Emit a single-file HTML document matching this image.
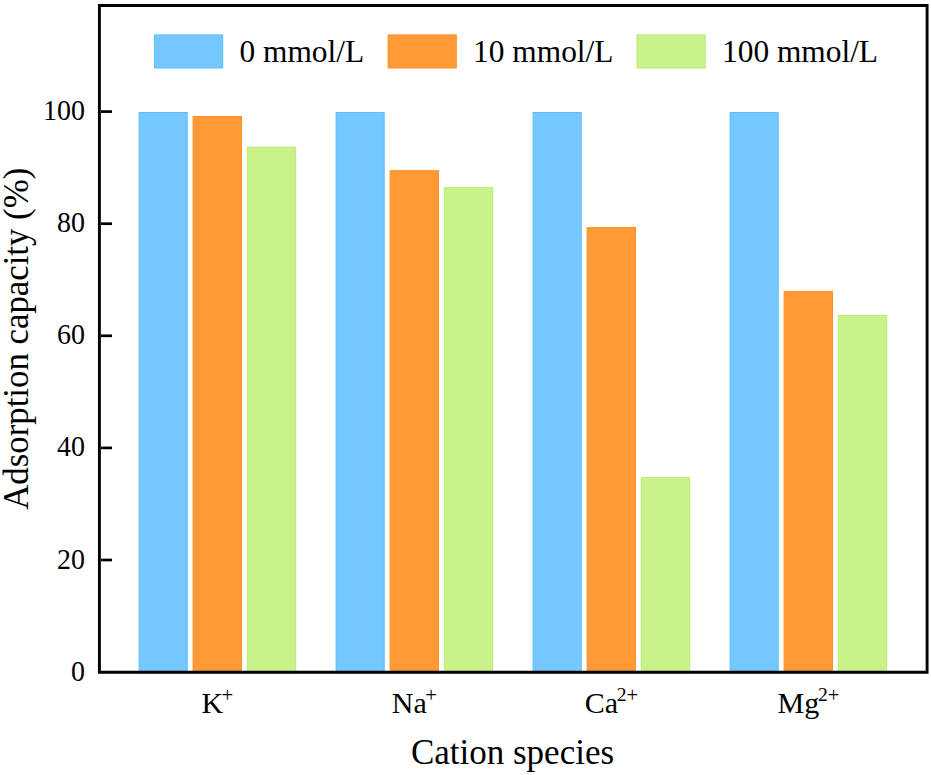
<!DOCTYPE html>
<html><head><meta charset="utf-8"><style>
html,body{margin:0;padding:0;background:#fff;}
svg{display:block;font-family:"Liberation Serif",serif;}
</style></head><body>
<svg width="931" height="775" viewBox="0 0 931 775" font-family="Liberation Serif">
<rect width="931" height="775" fill="#fff"/>
<rect x="139.10" y="112.50" width="48.10" height="560.20" fill="#74C8FF" stroke="#5ABEFF" stroke-width="1"/>
<rect x="193.10" y="116.50" width="48.40" height="556.20" fill="#FF9A36" stroke="#FF9124" stroke-width="1"/>
<rect x="247.30" y="147.20" width="48.40" height="525.50" fill="#C9F28A" stroke="#BBEC6E" stroke-width="1"/>
<rect x="336.10" y="112.50" width="48.10" height="560.20" fill="#74C8FF" stroke="#5ABEFF" stroke-width="1"/>
<rect x="390.10" y="170.70" width="48.40" height="502.00" fill="#FF9A36" stroke="#FF9124" stroke-width="1"/>
<rect x="444.30" y="187.60" width="48.40" height="485.10" fill="#C9F28A" stroke="#BBEC6E" stroke-width="1"/>
<rect x="533.10" y="112.50" width="48.10" height="560.20" fill="#74C8FF" stroke="#5ABEFF" stroke-width="1"/>
<rect x="587.10" y="227.60" width="48.40" height="445.10" fill="#FF9A36" stroke="#FF9124" stroke-width="1"/>
<rect x="641.30" y="477.60" width="48.40" height="195.10" fill="#C9F28A" stroke="#BBEC6E" stroke-width="1"/>
<rect x="730.10" y="112.50" width="48.10" height="560.20" fill="#74C8FF" stroke="#5ABEFF" stroke-width="1"/>
<rect x="784.10" y="291.40" width="48.40" height="381.30" fill="#FF9A36" stroke="#FF9124" stroke-width="1"/>
<rect x="838.30" y="315.50" width="48.40" height="357.20" fill="#C9F28A" stroke="#BBEC6E" stroke-width="1"/>
<rect x="154.5" y="34.9" width="68.2" height="33.1" fill="#74C8FF" stroke="#5ABEFF" stroke-width="1"/>
<text transform="translate(239.5,61.9) scale(1,1.035)" font-size="31.4">0 mmol/L</text>
<rect x="388.1" y="34.9" width="68.2" height="33.1" fill="#FF9A36" stroke="#FF9124" stroke-width="1"/>
<text transform="translate(473.1,61.9) scale(1,1.035)" font-size="31.4">10 mmol/L</text>
<rect x="637.0" y="34.9" width="68.2" height="33.1" fill="#C9F28A" stroke="#BBEC6E" stroke-width="1"/>
<text transform="translate(722.0,61.9) scale(1,1.035)" font-size="31.4">100 mmol/L</text>
<text transform="translate(85,680.60) scale(1,1.075)" text-anchor="end" font-size="28">0</text>
<line x1="101" y1="560.00" x2="112" y2="560.00" stroke="#000" stroke-width="2.7"/>
<text transform="translate(85,568.50) scale(1,1.075)" text-anchor="end" font-size="28">20</text>
<line x1="101" y1="447.90" x2="112" y2="447.90" stroke="#000" stroke-width="2.7"/>
<text transform="translate(85,456.40) scale(1,1.075)" text-anchor="end" font-size="28">40</text>
<line x1="101" y1="335.80" x2="112" y2="335.80" stroke="#000" stroke-width="2.7"/>
<text transform="translate(85,344.30) scale(1,1.075)" text-anchor="end" font-size="28">60</text>
<line x1="101" y1="223.70" x2="112" y2="223.70" stroke="#000" stroke-width="2.7"/>
<text transform="translate(85,232.20) scale(1,1.075)" text-anchor="end" font-size="28">80</text>
<line x1="101" y1="111.60" x2="112" y2="111.60" stroke="#000" stroke-width="2.7"/>
<text transform="translate(85,120.10) scale(1,1.075)" text-anchor="end" font-size="28">100</text>
<path d="M99.4 5.5 H927.1 V672.2 H99.4 Z" fill="none" stroke="#000" stroke-width="2.9" stroke-linejoin="miter"/>
<text x="217.40" y="712.8" text-anchor="middle" font-size="30">K<tspan font-size="20.8" dx="-1.5" dy="-10.6">+</tspan></text>
<text x="414.40" y="712.8" text-anchor="middle" font-size="30">Na<tspan font-size="20.8" dx="-1.5" dy="-10.6">+</tspan></text>
<text x="611.40" y="712.8" text-anchor="middle" font-size="30">Ca<tspan font-size="19.6" dx="-1.3" dy="-11.4">2</tspan><tspan font-size="20.6" dy="0.4">+</tspan></text>
<text x="808.40" y="712.8" text-anchor="middle" font-size="30">Mg<tspan font-size="19.6" dx="-1.3" dy="-11.4">2</tspan><tspan font-size="20.6" dy="0.4">+</tspan></text>
<text x="512.5" y="763.6" text-anchor="middle" font-size="35">Cation species</text>
<text transform="translate(27.8,338.75) rotate(-90)" text-anchor="middle" font-size="34.8">Adsorption capacity (%)</text>
</svg>
</body></html>
